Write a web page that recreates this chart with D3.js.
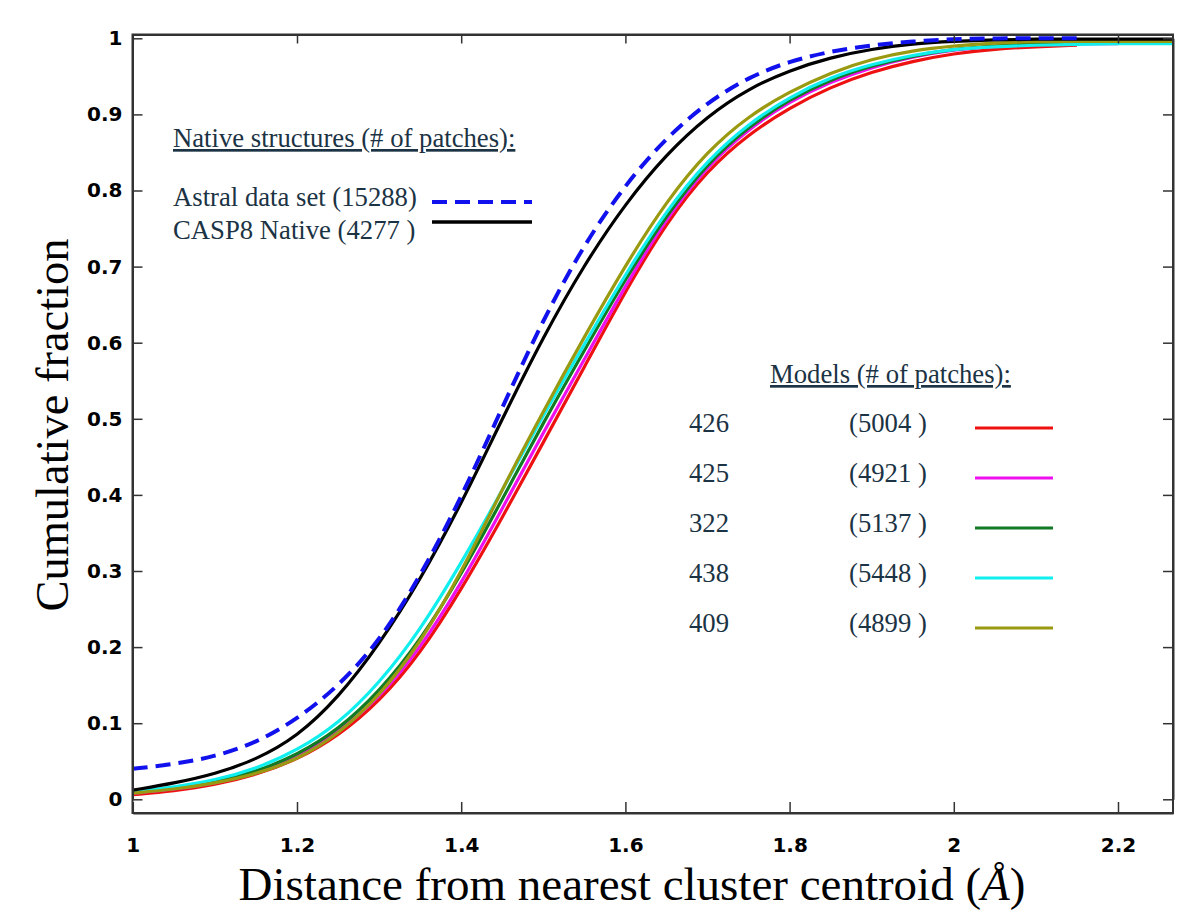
<!DOCTYPE html>
<html>
<head>
<meta charset="utf-8">
<script src="https://cdn.jsdelivr.net/npm/d3@7"></script>
<style>
  html, body { margin: 0; padding: 0; background: #fff; }
  svg { display: block; }
</style>
</head>
<body>
<svg id="chart" width="1200" height="923"></svg>
<script>
// ---------------- DATA ----------------
const xGrid = [1.00,1.05,1.10,1.15,1.20,1.25,1.30,1.35,1.40,1.45,1.50,1.55,1.60,1.65,1.70,1.75,1.80,1.85,1.90,1.95,2.00,2.05,2.10,2.15,2.20,2.27];

const astral   = [0.040,0.046,0.056,0.074,0.105,0.148,0.207,0.292,0.396,0.515,0.631,0.730,0.808,0.870,0.916,0.949,0.970,0.983,0.991,0.996,0.999,1.000,1.000,1.000,null,null];
const casp8    = [0.012,0.021,0.033,0.052,0.082,0.133,0.203,0.288,0.388,0.500,0.608,0.703,0.783,0.848,0.898,0.934,0.958,0.975,0.986,0.993,0.996,0.998,0.999,0.999,0.999,0.999];
const m426     = [0.006,0.011,0.019,0.032,0.052,0.083,0.128,0.191,0.275,0.370,0.469,0.568,0.668,0.758,0.827,0.874,0.909,0.936,0.956,0.970,0.980,0.986,0.989,0.991,null,null];
const m425     = [0.008,0.013,0.021,0.034,0.055,0.087,0.133,0.198,0.283,0.382,0.482,0.578,0.675,0.764,0.833,0.881,0.917,0.943,0.962,0.976,0.985,0.990,0.992,0.993,0.993,null];
const m322     = [0.009,0.014,0.022,0.036,0.058,0.091,0.141,0.208,0.295,0.394,0.495,0.590,0.684,0.768,0.836,0.884,0.920,0.946,0.964,0.977,0.986,0.990,0.993,0.994,0.994,null];
const m438     = [0.010,0.016,0.025,0.040,0.064,0.099,0.152,0.222,0.310,0.406,0.505,0.598,0.690,0.774,0.840,0.888,0.923,0.949,0.966,0.978,0.986,0.989,0.991,0.992,0.993,0.993];
const m409     = [0.008,0.013,0.021,0.033,0.052,0.085,0.135,0.205,0.297,0.408,0.510,0.608,0.702,0.786,0.852,0.898,0.930,0.955,0.973,0.984,0.990,0.994,0.996,0.996,0.996,0.996];

const xTicks = [1, 1.2, 1.4, 1.6, 1.8, 2, 2.2];
const xTickLabels = ["1", "1.2", "1.4", "1.6", "1.8", "2", "2.2"];
const yTicks = [0, 0.1, 0.2, 0.3, 0.4, 0.5, 0.6, 0.7, 0.8, 0.9, 1];
const yTickLabels = ["0", "0.1", "0.2", "0.3", "0.4", "0.5", "0.6", "0.7", "0.8", "0.9", "1"];

const nativeNames  = ["Astral data set (15288)", "CASP8 Native (4277 )"];
const modelIds     = ["426", "425", "322", "438", "409"];
const modelCounts  = ["(5004 )", "(4921 )", "(5137 )", "(5448 )", "(4899 )"];

// ---------------- STYLE / LAYOUT ----------------
(function () {
const modelSeries = [
  {vals: m426, color: "#ee1111"},
  {vals: m425, color: "#ee11ee"},
  {vals: m322, color: "#117a22"},
  {vals: m438, color: "#11eeee"},
  {vals: m409, color: "#9a9a12"}
];
const nativeSeries = [
  {vals: astral, color: "#1111ee", dash: "15,8", width: 4},
  {vals: casp8,  color: "#000000", dash: null,   width: 3.2}
];

const pL = 132.5, pR = 1173, pT = 34.5, pB = 813;
const svg = d3.select("#chart");

const x = d3.scaleLinear().domain([1, 2.267]).range([132.8, 1173]);
const y = d3.scaleLinear().domain([0, 1]).range([799.3, 38.3]);

svg.append("defs").append("clipPath").attr("id", "clip")
  .append("rect").attr("x", pL).attr("y", pT).attr("width", pR - pL).attr("height", pB - pT);

const line = d3.line()
  .defined(d => d[1] !== null)
  .x(d => x(d[0])).y(d => y(d[1]))
  .curve(d3.curveBasis);

const plot = svg.append("g").attr("clip-path", "url(#clip)");

modelSeries.forEach(s => {
  plot.append("path")
    .attr("d", line(xGrid.map((v, i) => [v, s.vals[i]])))
    .attr("fill", "none").attr("stroke", s.color).attr("stroke-width", 3.2)
    .attr("stroke-linejoin", "round");
});
[nativeSeries[1], nativeSeries[0]].forEach(s => {
  plot.append("path")
    .attr("d", line(xGrid.map((v, i) => [v, s.vals[i]])))
    .attr("fill", "none").attr("stroke", s.color).attr("stroke-width", s.width)
    .attr("stroke-dasharray", s.dash).attr("stroke-linejoin", "round");
});

// ---------------- AXES ----------------
const axisColor = "#333";
const tickFont = "'DejaVu Sans', Verdana, sans-serif";

const gB = svg.append("g").attr("transform", `translate(0,${pB})`)
  .call(d3.axisBottom(x).tickValues(xTicks).tickFormat((d, i) => xTickLabels[i]).tickSizeInner(-11).tickSizeOuter(0).tickPadding(25));
const gT = svg.append("g").attr("transform", `translate(0,${pT})`)
  .call(d3.axisTop(x).tickValues(xTicks).tickFormat("").tickSizeInner(-9).tickSizeOuter(0));
const gL = svg.append("g").attr("transform", `translate(${pL},0)`)
  .call(d3.axisLeft(y).tickValues(yTicks).tickFormat((d, i) => yTickLabels[i]).tickSizeInner(-10).tickSizeOuter(0).tickPadding(10));
const gR = svg.append("g").attr("transform", `translate(${pR},0)`)
  .call(d3.axisRight(y).tickValues(yTicks).tickFormat("").tickSizeInner(-10).tickSizeOuter(0));

[gB, gT, gL, gR].forEach(g => {
  g.select(".domain").attr("stroke", axisColor).attr("stroke-width", 2);
  g.selectAll(".tick line").attr("stroke", axisColor).attr("stroke-width", 1.5);
  g.selectAll(".tick text").attr("fill", "#000").attr("font-family", tickFont)
    .attr("font-weight", "bold").attr("font-size", 20);
});
svg.append("rect").attr("x", pL).attr("y", pT).attr("width", pR - pL).attr("height", pB - pT)
  .attr("fill", "none").attr("stroke", axisColor).attr("stroke-width", 2);

// axis titles
const serif = "'Liberation Serif', 'Times New Roman', serif";
svg.append("text")
  .attr("transform", "translate(68,425) rotate(-90)")
  .attr("text-anchor", "middle").attr("font-family", serif).attr("font-size", 46.5)
  .attr("fill", "#000").text("Cumulative fraction");

const xt = svg.append("text")
  .attr("x", 632).attr("y", 900)
  .attr("text-anchor", "middle").attr("font-family", serif).attr("font-size", 47)
  .attr("fill", "#000");
xt.append("tspan").text("Distance from nearest cluster centroid (");
xt.append("tspan").attr("font-style", "italic").text("Å");
xt.append("tspan").text(")");

// ---------------- LEGENDS ----------------
const legColor = "#1b3344";
const legFont = 26.7;

svg.append("text").attr("x", 173).attr("y", 147)
  .attr("font-family", serif).attr("font-size", legFont).attr("fill", legColor)
  .attr("text-decoration", "underline").text("Native structures (# of patches):");

nativeNames.forEach((name, i) => {
  const yy = 202 + i * 20;
  svg.append("text").attr("x", 173).attr("y", 206 + i * 33)
    .attr("font-family", serif).attr("font-size", legFont).attr("fill", legColor).text(name);
  svg.append("line").attr("x1", 432).attr("x2", 532).attr("y1", yy).attr("y2", yy)
    .attr("stroke", nativeSeries[i].color).attr("stroke-width", i === 0 ? 4 : 3.5)
    .attr("stroke-dasharray", i === 0 ? "15,8" : null);
});

svg.append("text").attr("x", 770).attr("y", 383)
  .attr("font-family", serif).attr("font-size", legFont).attr("fill", legColor)
  .attr("text-decoration", "underline").text("Models (# of patches):");

modelIds.forEach((id, i) => {
  const yy = 428 + i * 50;
  svg.append("text").attr("x", 689).attr("y", yy + 4)
    .attr("font-family", serif).attr("font-size", legFont).attr("fill", legColor).text(id);
  svg.append("text").attr("x", 849).attr("y", yy + 4)
    .attr("font-family", serif).attr("font-size", legFont).attr("fill", legColor).text(modelCounts[i]);
  svg.append("line").attr("x1", 975).attr("x2", 1053).attr("y1", yy).attr("y2", yy)
    .attr("stroke", modelSeries[i].color).attr("stroke-width", 3);
});
})();
</script>
</body>
</html>
